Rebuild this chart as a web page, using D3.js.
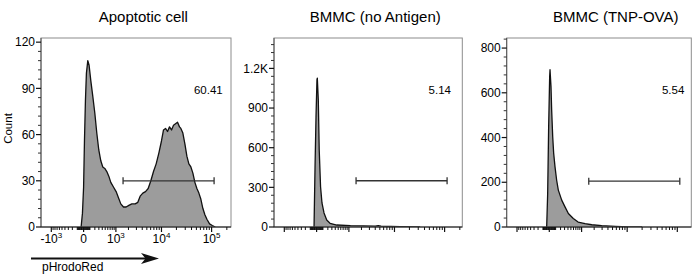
<!DOCTYPE html>
<html><head><meta charset="utf-8">
<script src="https://cdn.jsdelivr.net/npm/d3@7"></script>
<style>
body{margin:0;background:#fff}
svg{display:block}
text{font-family:"Liberation Sans",Arial,Helvetica,sans-serif;fill:#000}
</style>
</head><body>
<svg id="chart" width="699" height="277"></svg>
<script>
// ---------- data ----------
const titles = ["Apoptotic cell", "BMMC (no Antigen)", "BMMC (TNP-OVA)"];
const gatePercents = ["60.41", "5.14", "5.54"];
const gateLow = [1500, 1500, 1500];
const gateHigh = [112000, 112000, 112000];
const gateLevel = [30, 350, 205];
const yMaxes = [122.7, 1430, 845];
const yTicksApoptotic = [0, 30, 60, 90, 120];
const yTicksNoAntigen = [0, 300, 600, 900, 1200];
const yTicksTNP = [0, 200, 400, 600, 800];
const yTickLabelsApoptotic = ["0", "30", "60", "90", "120"];
const yTickLabelsNoAntigen = ["0", "300", "600", "900", "1.2K"];
const yTickLabelsTNP = ["0", "200", "400", "600", "800"];
const xTickValues = [-1000, 0, 1000, 10000, 100000];
const xTickLabels = ["-10^3", "0", "10^3", "10^4", "10^5"];
const xAxisTitle = "pHrodoRed";
const yAxisTitle = "Count";

const apoptoticX = [-36,-16,0,12,26,41,63,85,116,155,199,246,298,355,417,485,560,642,731,864,1014,1161,1324,1535,1771,2038,2379,2817,3219,3613,4115,4687,5329,6054,6871,7793,8841,10020,10995,12078,13260,14536,15960,17490,19194,21060,23070,24540,26900,29520,32340,35430,38850,42570,46650,51120,56010,61380,67260,73680,80730,91170,103170,118140];
const apoptoticCount = [0,9,26,56,82,100,108,105,95,85,74,61,50,43,39,38,36,33,29,26,23,19,15,13,13,14,15,15,16,20,22,23,25,30,36,41,48,56,63,64,62,65,63,66,67,68,65,64,61,54,46,41,39,35,29,25,22,18,12,8,5,2,1,0];

const noAntigenX = [-37,-22,-8,5,10,24,38,59,83,120,175,252,449,1094,2215,4000,4628,5300,13070,32800];
const noAntigenCount = [0,457,836,1114,1126,962,583,305,182,106,53,28,15,10,8,7,10,6,3,0];

const tnpX = [-38,-23,-9,5,10,24,34,50,66,89,119,152,227,312,413,592,809,1223,1763,2943,5661,10730,20000];
const tnpCount = [0,150,448,673,703,628,523,404,329,269,209,165,120,90,60,38,22,15,10,6,3,0,0];

// ---------- layout ----------
const svg = d3.select("#chart");
const plotTop = 38, plotBottom = 227;
const panels = [
  {left: 41, right: 231, titleX: 143.3, pctX: 222.7, xs: apoptoticX, ys: apoptoticCount, yt: yTicksApoptotic, yl: yTickLabelsApoptotic, labels: true},
  {left: 274, right: 462.3, titleX: 375.3, pctX: 451, xs: noAntigenX, ys: noAntigenCount, yt: yTicksNoAntigen, yl: yTickLabelsNoAntigen, labels: false},
  {left: 506.7, right: 691.3, titleX: 615.7, pctX: 684.3, xs: tnpX, ys: tnpCount, yt: yTicksTNP, yl: yTickLabelsTNP, labels: false}
];

// minor x tick values (decade subdivisions)
const xMinor = [];
[10, 100, 1000, 10000, 100000].forEach(dec => {
  for (let k = 1; k <= 9; k++) {
    const v = k * dec;
    if (!xTickValues.includes(v)) xMinor.push(v);
    if (!xTickValues.includes(-v)) xMinor.push(-v);
  }
});

panels.forEach((p, i) => {
  const g = svg.append("g");
  const x = d3.scaleSymlog().constant(300).domain([0, 100000]).range([p.left + 42.6, p.left + 170.6]);
  const y = d3.scaleLinear().domain([0, yMaxes[i]]).range([plotBottom, plotTop]);
  const inX = v => x(v) >= p.left - 0.1 && x(v) <= p.right + 0.1;

  // title
  g.append("text").attr("x", p.titleX).attr("y", 22).attr("text-anchor", "middle")
    .style("font-size", "15px").text(titles[i]);

  // clip
  const cid = "clip" + i;
  svg.append("clipPath").attr("id", cid).append("rect")
    .attr("x", p.left).attr("y", plotTop).attr("width", p.right - p.left).attr("height", plotBottom - plotTop);

  // histogram
  const pts = p.xs.map((v, j) => [v, p.ys[j]]);
  const area = d3.area().x(d => x(d[0])).y0(y(0)).y1(d => y(d[1]));
  const line = d3.line().x(d => x(d[0])).y(d => y(d[1]));
  const hg = g.append("g").attr("clip-path", `url(#${cid})`);
  hg.append("path").datum(pts).attr("d", area).attr("fill", "#9c9c9c");
  hg.append("path").datum(pts).attr("d", line).attr("fill", "none")
    .attr("stroke", "#111").attr("stroke-width", 1.3).attr("stroke-linejoin", "round");

  // frame
  g.append("rect").attr("x", p.left).attr("y", plotTop).attr("width", p.right - p.left).attr("height", plotBottom - plotTop)
    .attr("fill", "none").attr("stroke", "#8c8c8c").attr("stroke-width", 1);
  g.append("line").attr("x1", p.left).attr("x2", p.left).attr("y1", plotTop).attr("y2", plotBottom)
    .attr("stroke", "#555").attr("stroke-width", 1);
  g.append("line").attr("x1", p.left).attr("x2", p.right).attr("y1", plotBottom).attr("y2", plotBottom)
    .attr("stroke", "#111").attr("stroke-width", 1.2);

  // x ticks
  g.selectAll(".xmin").data(xMinor.filter(inX)).enter().append("line")
    .attr("x1", d => x(d)).attr("x2", d => x(d)).attr("y1", plotBottom).attr("y2", plotBottom + 3)
    .attr("stroke", "#111").attr("stroke-width", 1);
  g.selectAll(".xmaj").data(xTickValues.filter(inX)).enter().append("line")
    .attr("x1", d => x(d)).attr("x2", d => x(d)).attr("y1", plotBottom).attr("y2", plotBottom + 5)
    .attr("stroke", "#111").attr("stroke-width", 1.2);
  if (p.labels) {
    xTickValues.forEach((v, j) => {
      const parts = xTickLabels[j].split("^");
      const t = g.append("text").attr("x", x(v)).attr("y", 243).attr("text-anchor", "middle")
        .style("font-size", "12px");
      t.append("tspan").text(parts[0]);
      if (parts[1]) t.append("tspan").attr("dy", -5).style("font-size", "8px").text(parts[1]);
    });
  }

  // y ticks
  const step = p.yt[1] - p.yt[0];
  const yMinor = d3.range(0, yMaxes[i], step / 5).filter(v => !p.yt.includes(Math.round(v)));
  g.selectAll(".ymin").data(yMinor).enter().append("line")
    .attr("x1", p.left - 3).attr("x2", p.left).attr("y1", d => y(d)).attr("y2", d => y(d))
    .attr("stroke", "#333").attr("stroke-width", 1);
  g.selectAll(".ymaj").data(p.yt).enter().append("line")
    .attr("x1", p.left - 5).attr("x2", p.left).attr("y1", d => y(d)).attr("y2", d => y(d))
    .attr("stroke", "#111").attr("stroke-width", 1.2);
  g.selectAll(".ylab").data(p.yt).enter().append("text")
    .attr("x", p.left - 6).attr("y", d => y(d)).attr("dy", "0.35em").attr("text-anchor", "end")
    .style("font-size", "12px").text((d, j) => p.yl[j]);

  // gate
  const gy = y(gateLevel[i]), gx1 = x(gateLow[i]), gx2 = x(gateHigh[i]);
  g.append("line").attr("x1", gx1).attr("x2", gx2).attr("y1", gy).attr("y2", gy)
    .attr("stroke", "#333").attr("stroke-width", 1.3);
  [gx1, gx2].forEach(gx => g.append("line").attr("x1", gx).attr("x2", gx).attr("y1", gy - 3.5).attr("y2", gy + 3.5)
    .attr("stroke", "#333").attr("stroke-width", 1.3));
  g.append("text").attr("x", p.pctX).attr("y", 93.5).attr("text-anchor", "end")
    .style("font-size", "11.5px").text(gatePercents[i]);
});

// y axis title
svg.append("text").attr("transform", "translate(11.5,128.5) rotate(-90)").attr("text-anchor", "middle")
  .style("font-size", "11.5px").text(yAxisTitle);

// x axis title with arrow
svg.append("line").attr("x1", 31).attr("x2", 146).attr("y1", 258.5).attr("y2", 258.5)
  .attr("stroke", "#111").attr("stroke-width", 2);
svg.append("path").attr("d", "M159,258.5 L141,253 L145.5,258.5 L141,264 Z").attr("fill", "#111");
svg.append("text").attr("x", 42).attr("y", 270.5).style("font-size", "12px").text(xAxisTitle);
</script>
</body></html>
